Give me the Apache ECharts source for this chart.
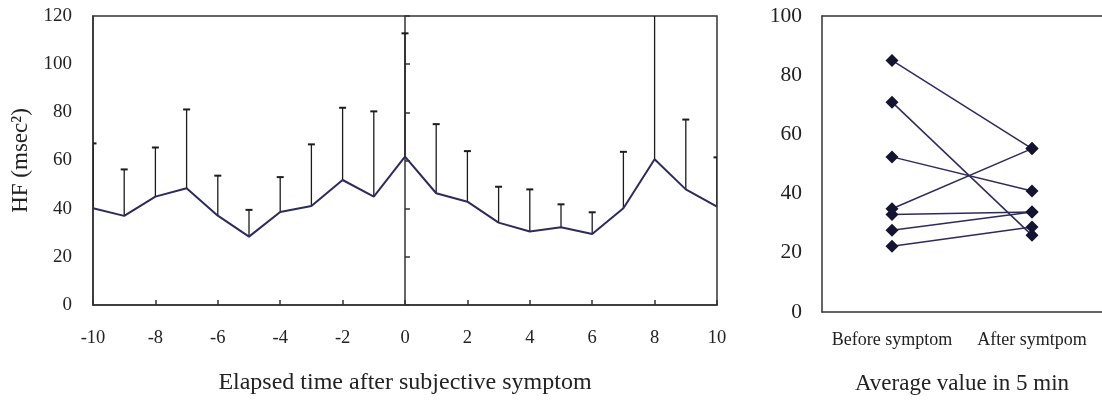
<!DOCTYPE html>
<html>
<head>
<meta charset="utf-8">
<script src="https://cdn.jsdelivr.net/npm/echarts@6/dist/echarts.min.js"></script>
<style>
  html, body { margin: 0; padding: 0; background: #fff; }
  #chart { width: 1102px; height: 404px; }
</style>
</head>
<body>
<div id="chart"></div>
<script>
// HF time course around the subjective symptom (mean with upper SD bar)
const timePoints = [-10, -9, -8, -7, -6, -5, -4, -3, -2, -1, 0, 1, 2, 3, 4, 5, 6, 7, 8, 9, 10];
const hfMean = [40.2, 37.0, 45.0, 48.5, 37.1, 28.4, 38.6, 41.1, 51.9, 45.0, 61.6,
                46.4, 42.9, 34.2, 30.5, 32.3, 29.5, 40.2, 60.5, 48.0, 40.8];
const hfSd   = [26.9, 19.3, 20.4, 32.7, 16.6, 11.1, 14.5, 25.6, 30.0, 35.4, 51.2,
                28.7, 21.0, 14.9, 17.5, 9.5, 9.0, 23.4, 75.0, 29.0, 20.5];
const leftYTicks = [0, 20, 40, 60, 80, 100, 120];

// Per-subject 5-minute averages before and after the symptom
const periodLabels = ['Before symptom', 'After symtpom'];
const hfBefore = [85.0, 70.9, 52.4, 34.9, 32.9, 27.6, 22.2];
const hfAfter  = [55.2, 25.9, 40.9, 55.2, 33.8, 33.8, 28.7];

const FONT = '"Liberation Serif", "Times New Roman", serif';
const TEXT = '#222';
const AXIS = '#333';
const NAVY = '#2c2b5e';

const chart = echarts.init(document.getElementById('chart'), null, { renderer: 'canvas' });

const meanData = timePoints.map((t, i) => [t, hfMean[i]]);
const barData = timePoints.map((t, i) => [t, hfMean[i], hfMean[i] + hfSd[i]]);

const subjectSeries = hfBefore.map((b, i) => ({
  type: 'line',
  xAxisIndex: 1,
  yAxisIndex: 2,
  data: [b, hfAfter[i]],
  symbol: 'diamond',
  symbolSize: 13,
  lineStyle: { color: NAVY, width: 1.5 },
  itemStyle: { color: '#141430' },
  animation: false,
  z: 3
}));

chart.setOption({
  animation: false,
  backgroundColor: '#fff',
  grid: [
    { left: 93, right: 385, top: 16, bottom: 99, show: true, borderColor: AXIS, borderWidth: 1.5, containLabel: false },
    { left: 822, right: 0, top: 16, bottom: 92, show: false, containLabel: false }
  ],
  xAxis: [
    {
      gridIndex: 0, type: 'value', min: -10, max: 10, interval: 2,
      name: 'Elapsed time after subjective symptom', nameLocation: 'middle', nameGap: 66,
      nameTextStyle: { fontFamily: FONT, fontSize: 24, color: TEXT },
      axisLine: { onZero: false, lineStyle: { color: AXIS, width: 1.5 } },
      axisTick: { inside: true, length: 5, lineStyle: { color: AXIS, width: 1.5 } },
      axisLabel: { fontFamily: FONT, fontSize: 18.5, color: TEXT, margin: 24 },
      splitLine: { show: false }
    },
    {
      gridIndex: 1, type: 'category', data: periodLabels, boundaryGap: true,
      name: 'Average value in 5 min', nameLocation: 'middle', nameGap: 60,
      nameTextStyle: { fontFamily: FONT, fontSize: 23, color: TEXT },
      axisLine: { onZero: false, lineStyle: { color: AXIS, width: 1.5 } },
      axisTick: { inside: true, length: 5, lineStyle: { color: AXIS, width: 1.5 } },
      axisLabel: { interval: 0, fontFamily: FONT, fontSize: 18, color: TEXT, margin: 19 },
      splitLine: { show: false }
    },
    {
      // top frame line of the right panel
      gridIndex: 1, type: 'category', data: periodLabels, position: 'top',
      axisLine: { show: true, onZero: false, lineStyle: { color: AXIS, width: 1.5 } },
      axisTick: { show: false },
      axisLabel: { show: false },
      splitLine: { show: false }
    }
  ],
  yAxis: [
    {
      gridIndex: 0, type: 'value', min: 0, max: 120, interval: 20,
      name: 'HF (msec²)', nameLocation: 'middle', nameGap: 61, nameRotate: 90,
      nameTextStyle: { fontFamily: FONT, fontSize: 23, color: TEXT },
      axisLine: { show: true, onZero: false, lineStyle: { color: AXIS, width: 1.5 } },
      axisTick: { show: false },
      axisLabel: {
        fontFamily: FONT, fontSize: 19, color: TEXT, margin: 21,
        formatter: v => (leftYTicks.indexOf(v) >= 0 ? String(v) : '')
      },
      splitLine: { show: false }
    },
    {
      // vertical reference axis at the symptom onset (t = 0)
      gridIndex: 0, type: 'value', min: 0, max: 120, interval: 20,
      position: 'left', offset: -312,
      axisLine: { show: true, onZero: false, lineStyle: { color: AXIS, width: 1.5 } },
      axisTick: { show: true, inside: true, length: 5, lineStyle: { color: AXIS, width: 1.5 } },
      axisLabel: { show: false },
      splitLine: { show: false }
    },
    {
      gridIndex: 1, type: 'value', min: 0, max: 100, interval: 20,
      axisLine: { show: true, onZero: false, lineStyle: { color: AXIS, width: 1.5 } },
      axisTick: { show: false },
      axisLabel: { fontFamily: FONT, fontSize: 21.5, color: TEXT, margin: 20 },
      splitLine: { show: false }
    }
  ],
  series: [
    {
      type: 'custom',
      xAxisIndex: 0,
      yAxisIndex: 0,
      data: barData,
      clip: true,
      z: 2,
      renderItem: function (params, api) {
        const base = api.coord([api.value(0), api.value(1)]);
        const top = api.coord([api.value(0), api.value(2)]);
        const style = { stroke: '#1c1c1c', lineWidth: 1.3 };
        return {
          type: 'group',
          children: [
            { type: 'line', shape: { x1: base[0], y1: base[1], x2: top[0], y2: top[1] }, style: style },
            { type: 'line', shape: { x1: top[0] - 3.5, y1: top[1], x2: top[0] + 3.5, y2: top[1] }, style: { stroke: '#1c1c1c', lineWidth: 2 } }
          ]
        };
      }
    },
    {
      type: 'line',
      xAxisIndex: 0,
      yAxisIndex: 0,
      data: meanData,
      showSymbol: false,
      symbol: 'none',
      lineStyle: { color: NAVY, width: 2 },
      z: 3
    }
  ].concat(subjectSeries)
});
</script>
</body>
</html>
